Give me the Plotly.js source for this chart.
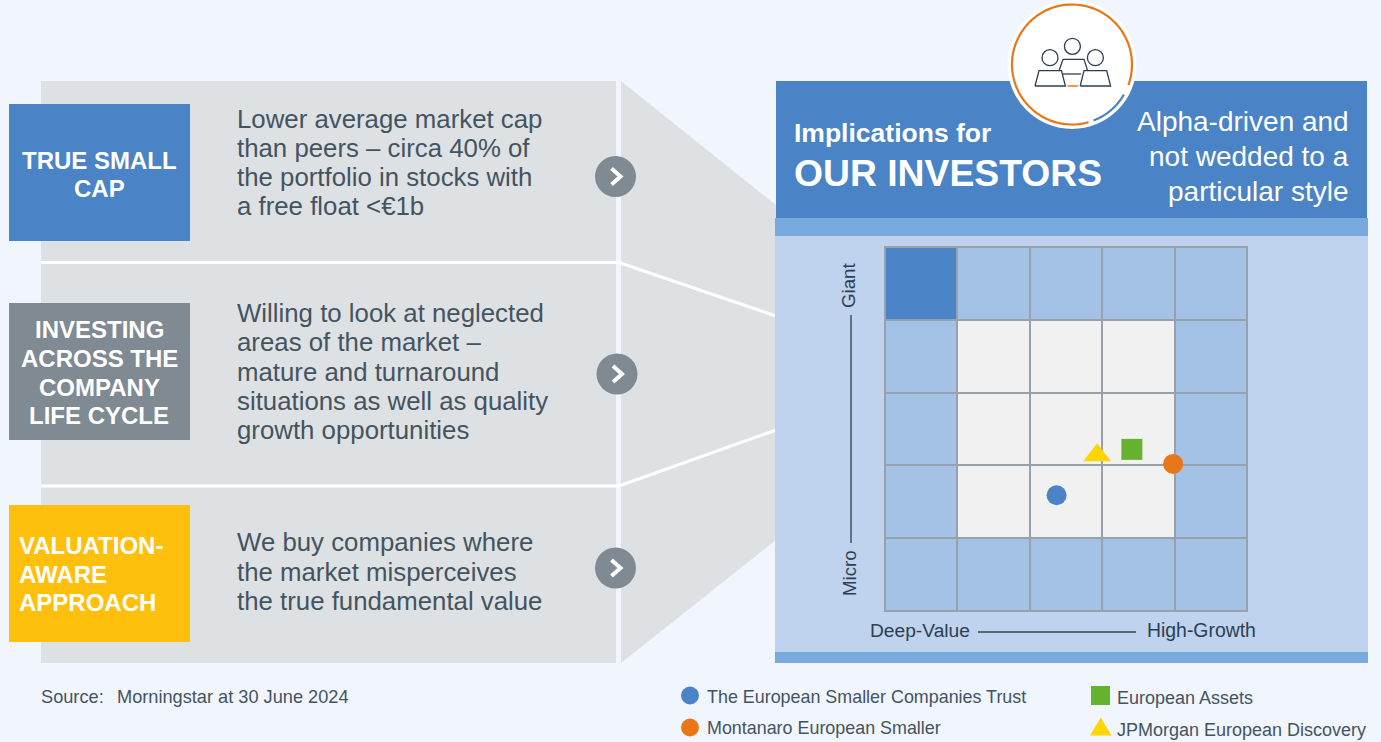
<!DOCTYPE html>
<html><head><meta charset="utf-8">
<script src="https://cdn.plot.ly/plotly-3.0.1.min.js"></script>
<style>html,body{margin:0;padding:0;background:#f1f5fe;overflow:hidden}#c{width:1381px;height:742px}</style>
</head><body><div id="c"></div>
<script>
// ---- data ----
const gridCols = [0.5, 1.5, 2.5, 3.5, 4.5];
const gridRows = [0.5, 1.5, 2.5, 3.5, 4.5];
const gridZ = [
  [0, 0, 0, 0, 0],
  [0, 1, 1, 1, 0],
  [0, 1, 1, 1, 0],
  [0, 1, 1, 1, 0],
  [2, 0, 0, 0, 0]
];
const fundNames = ['The European Smaller Companies Trust', 'Montanaro European Smaller', 'European Assets', 'JPMorgan European Discovery'];
const fundX = [2.37, 3.98, 3.41, 2.93];
const fundY = [1.59, 2.02, 2.22, 2.14];
const fundSymbols = ['circle', 'circle', 'square', 'triangle-up'];
const fundColors = ['#4a83c6', '#e87817', '#65b32e', '#ffd500'];
const fundSizes = [20, 20, 21, 24];

const pillarLabels = [['TRUE SMALL', 'CAP'], ['INVESTING', 'ACROSS THE', 'COMPANY', 'LIFE CYCLE'], ['VALUATION-', 'AWARE', 'APPROACH']];
const pillarTexts = [
  ['Lower average market cap', 'than peers – circa 40% of', 'the portfolio in stocks with', 'a free float <€1b'],
  ['Willing to look at neglected', 'areas of the market –', 'mature and turnaround', 'situations as well as quality', 'growth opportunities'],
  ['We buy companies where', 'the market misperceives', 'the true fundamental value']
];
const headerSmall = 'Implications for';
const headerBig = 'OUR INVESTORS';
const headerRight = ['Alpha-driven and', 'not wedded to a', 'particular style'];
const sourceLabel = 'Source:';
const sourceText = 'Morningstar at 30 June 2024';

// ---- page geometry helpers (pixels to paper) ----
const W = 1381, H = 742;
const px = x => x / W, py = y => 1 - y / H;
const shapes = [], annotations = [];
const rect = (x0, y0, x1, y1, fill) => shapes.push({type:'rect', xref:'paper', yref:'paper', layer:'below', x0:px(x0), x1:px(x1), y0:py(y0), y1:py(y1), fillcolor:fill, line:{width:0}});
const poly = (pts, opt) => shapes.push(Object.assign({type:'path', xref:'paper', yref:'paper', layer:'below',
  path:'M' + pts.map(p => px(p[0]) + ',' + py(p[1])).join('L') + (opt.close ? 'Z' : ''),
  fillcolor:opt.fill || 'rgba(0,0,0,0)', line:{width:opt.w || 0, color:opt.color || 'rgba(0,0,0,0)'}}));
const arc = (cx, cy, rx, ry, a0, a1) => { const p = []; for (let a = a0; a <= a1 + 0.01; a += 3) p.push([cx + rx*Math.cos(a*Math.PI/180), cy + ry*Math.sin(a*Math.PI/180)]); return p; };
const disc = (cx, cy, r, fill) => shapes.push({type:'circle', xref:'paper', yref:'paper', layer:'below', x0:px(cx-r), x1:px(cx+r), y0:py(cy+r), y1:py(cy-r), fillcolor:fill, line:{width:0}});
const ring = (cx, cy, r, color, w) => shapes.push({type:'circle', xref:'paper', yref:'paper', layer:'below', x0:px(cx-r), x1:px(cx+r), y0:py(cy+r), y1:py(cy-r), fillcolor:'rgba(0,0,0,0)', line:{width:w, color:color}});
const text = (s, x, y, size, color, anchor, weight, family, angle) => annotations.push({text:s, xref:'paper', yref:'paper', x:px(x), y:py(y), xanchor:anchor||'left', yanchor:'middle', showarrow:false, borderpad:0, textangle:angle||0,
  font:{size:size, color:color, weight:weight||400, family:family||'"Liberation Sans", Arial, sans-serif'}});

const BG='#f1f5fe', PANEL='#dee1e4', BLUE='#4a83c6', STRIP='#78aadd', LIGHT='#bfd3ee', SLATE='#7f8a92', YEL='#fec00d', INK='#44545f', DARK='#2d3e50';

// left panel + funnel
rect(41, 81, 616, 663, PANEL);
poly([[621,81],[776,205],[776,540],[621,663]], {close:true, fill:PANEL});
poly([[41,262.5],[619,262.5],[776,316]], {w:3, color:'#fff'});
poly([[41,486],[619,486],[776,430]], {w:3, color:'#fff'});
// pillar boxes
rect(9,104,190,241,BLUE); rect(9,303,190,440,SLATE); rect(9,505,190,642,YEL);
// chevrons
[[615.5,176.5],[617,374],[615.5,568]].forEach(c => {
  disc(c[0], c[1], 20.5, SLATE);
  poly([[c[0]-4,c[1]-8],[c[0]+5,c[1]],[c[0]-4,c[1]+8]], {w:4, color:'#fff'});
});
// right panel
rect(776,81,1367,218,BLUE); rect(775,218,1368,236,STRIP); rect(775,236,1368,652,LIGHT); rect(775,652,1368,663,STRIP);
// badge
disc(1072,64.5,64.5,'#fff');
poly(arc(1072,64.5,60,60,74,380), {w:2.2, color:'#e87817'});
poly(arc(1072,64.5,60,60,30,70), {w:2.2, color:BLUE});
ring(1072.4,46.3,8,DARK,1.3); ring(1050,57.7,8,DARK,1.3); ring(1095.4,57.7,8,DARK,1.3);
poly([[1035,86],[1039,70.7],[1061.5,70.7],[1065.4,86],[1035,86]], {w:1.3, color:DARK});
poly([[1080.2,86],[1084,70.7],[1106.7,70.7],[1110.6,86],[1080.2,86]], {w:1.3, color:DARK});
poly([[1059,70.7],[1063,59.3],[1084,59.3],[1087.6,70.7]], {w:1.3, color:DARK});
poly([[1063,74],[1081,74]], {w:1.3, color:DARK});
poly([[1067.5,86],[1078,86]], {w:1.5, color:'#e87817'});
// axis arrows lines
poly([[851,315],[851,543]], {w:1.3, color:DARK});
poly([[978,632],[1136,632]], {w:1.3, color:DARK});
// legend swatches
disc(690,695.5,9,fundColors[0]); disc(690,727.5,9,fundColors[1]);
rect(1091,686,1110,705,fundColors[2]);
poly([[1090,735.5],[1100.7,717.5],[1111.5,735.5]], {close:true, fill:fundColors[3]});

// pillar texts
const bodyY = [[119,148,177,206],[313,342,372,401,430],[542,572,601]];
pillarTexts.forEach((ls,i) => ls.forEach((s,j) => text(s.replace('<','&lt;'),236,bodyY[i][j],25.8,INK)));
const labY = [[160.5,188.5],[329.5,358.5,387.5,415.5],[545.5,574.5,602.5]];
pillarLabels.forEach((ls,i) => ls.forEach((s,j) => text(s, i==2?17.5:99, labY[i][j], 24, '#fff', i==2?'left':'center', 700)));
// header
text(headerSmall,792.5,133,26.5,'#fff','left',700);
text(headerBig,792.5,173,37.3,'#fff','left',700);
headerRight.forEach((s,j) => text(s,1350,[122,156,191][j],28,'#fff','right'));
// axis captions
text('Giant',849,286,18.7,DARK,'center',400,null,-90);
text('Micro',849,573,18.7,DARK,'center',400,null,-90);
text('Deep-Value',868.5,630,19.2,DARK);
text('High-Growth',1145.5,630,19.4,DARK);
// footer
text(sourceLabel,39.5,697,18.2,INK);
text(sourceText,115.5,697,18.2,INK);
text(fundNames[0],706,697,17.9,INK); text(fundNames[1],706,728,17.9,INK);
text(fundNames[2],1115.5,698,18,INK); text(fundNames[3],1115.5,730,18,INK);

// grid backing seen through the heatmap gaps
shapes.push({type:'rect', xref:'x', yref:'y', layer:'below', x0:0, x1:5, y0:0, y1:5, fillcolor:'#97a1a9', line:{width:0}});

const traces = [{
  type:'heatmap', x:gridCols, y:gridRows, z:gridZ, xgap:2, ygap:2, zmin:0, zmax:2, showscale:false, hoverinfo:'skip',
  colorscale:[[0,'#a4c2e6'],[0.5,'#f1f1f1'],[1,BLUE]]
}].concat(fundNames.map((n,i) => ({
  type:'scatter', mode:'markers', name:n, x:[fundX[i]], y:[fundY[i]], cliponaxis:false, showlegend:false,
  marker:{symbol:fundSymbols[i], size:fundSizes[i], color:fundColors[i], line:{width:0}}
})));
const axis = {range:[0,5], showgrid:false, zeroline:false, showticklabels:false, ticks:'', showline:true, mirror:true, linecolor:'#97a1a9', linewidth:1, fixedrange:true};
const layout = {
  width:W, height:H, margin:{l:0,r:0,t:0,b:0,pad:0}, paper_bgcolor:BG, plot_bgcolor:'#97a1a9', showlegend:false,
  xaxis:Object.assign({domain:[px(885),px(1247)]},axis),
  yaxis:Object.assign({domain:[py(611),py(247)]},axis),
  shapes:shapes, annotations:annotations
};
Plotly.newPlot('c', traces, layout, {displayModeBar:false, staticPlot:true});
</script></body></html>
